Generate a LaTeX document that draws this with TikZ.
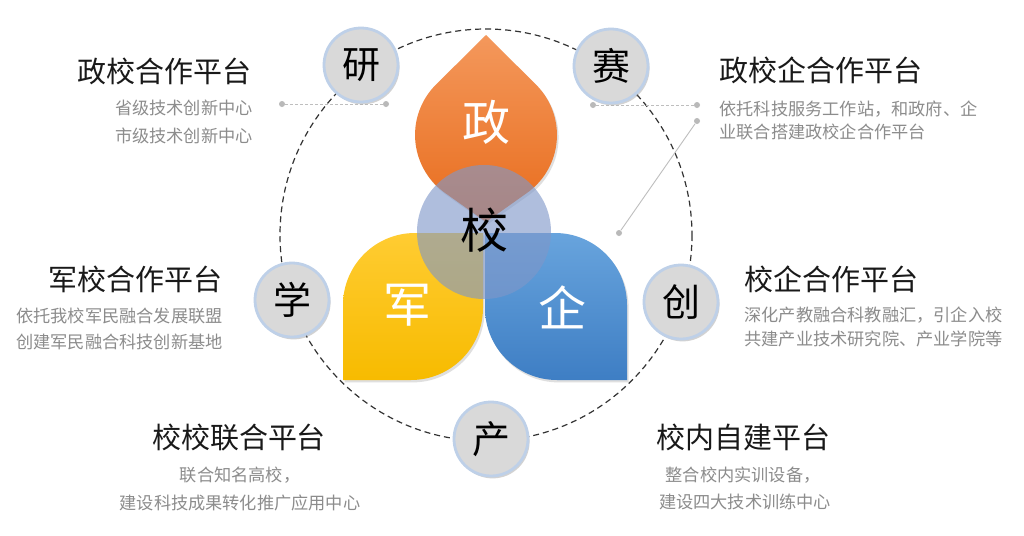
\documentclass[tikz,border=0pt]{standalone}
\usepackage{fontspec}
\setmainfont{Noto Sans CJK SC}
\usetikzlibrary{shadows}
\definecolor{titlec}{RGB}{25,25,25}
\definecolor{subc}{RGB}{140,140,140}
\definecolor{ringc}{RGB}{51,51,51}
\definecolor{linec}{RGB}{190,190,190}
\definecolor{dotc}{RGB}{185,185,185}
\definecolor{smfill}{RGB}{217,217,217}
\definecolor{smring}{RGB}{190,208,232}
\definecolor{orL}{RGB}{244,152,92}
\definecolor{orD}{RGB}{232,108,28}
\definecolor{yeL}{RGB}{255,204,50}
\definecolor{yeD}{RGB}{247,187,0}
\definecolor{blL}{RGB}{104,164,221}
\definecolor{blD}{RGB}{62,126,196}
\definecolor{cbl}{RGB}{127,151,201}
\begin{document}
\begin{tikzpicture}[x=0.5pt,y=-0.5pt,
  bigring/.style={draw=ringc,line width=0.6pt,dash pattern=on 3pt off 2pt},
  hline/.style={draw=linec,line width=0.5pt,dash pattern=on 1.5pt off 1pt},
  dline/.style={draw=linec,line width=0.45pt},
  dotn/.style={circle,fill=dotc,inner sep=0pt,minimum size=3pt},
  smallc/.style={circle,fill=smfill,draw=smring,line width=1.4pt,minimum size=37pt,inner sep=0pt,
    font=\fontsize{19}{22}\selectfont,text=black,
    drop shadow={opacity=0.35,shadow xshift=0.8pt,shadow yshift=-1.2pt}},
  petal/.style={drop shadow={opacity=0.25,shadow xshift=0.8pt,shadow yshift=-1.2pt}},
  bigch/.style={font=\fontsize{24}{28}\selectfont,text=white,inner sep=0pt},
  title/.style={font=\fontsize{14.5}{17}\selectfont,text=titlec,inner sep=0pt},
  sub/.style={font=\fontsize{8.6}{10}\selectfont,text=subc,inner sep=0pt}]
\useasboundingbox (0,0) rectangle (1024,536);
\fill[white] (0,0) rectangle (1024,536);

% big dashed ring
\draw[bigring] (486,235) circle[radius=206];

% dotted pointer lines
\node[dotn] (d1) at (282,104) {};
\node[dotn] (d2) at (386,104) {};
\node[dotn] (d3) at (593,105) {};
\node[dotn] (d4) at (697,105) {};
\node[dotn] (d5) at (697,121) {};
\node[dotn] (d6) at (619,233) {};
\draw[hline] (d1) -- (d2);
\draw[hline] (d3) -- (d4);
\draw[dline] (d5) -- (d6);

% petals
\path[petal,top color=orL,bottom color=orD]
  (486,35) -- (536.0,84.6) arc[start angle=-45.2,end angle=54.7,radius=71]
  -- (486,222) -- (445.0,192.9) arc[start angle=125.3,end angle=224.8,radius=71] -- cycle;
\path[petal,top color=yeL,bottom color=yeD]
  (343,305) arc[start angle=180,end angle=270,radius=72] -- (483,233) -- (483,308)
  arc[start angle=0,end angle=90,radius=72] -- (343,380) -- cycle;
\path[petal,top color=blL,bottom color=blD]
  (485,233) -- (555,233) arc[start angle=-90,end angle=0,radius=72] -- (627,380) -- (557,380)
  arc[start angle=90,end angle=180,radius=72] -- cycle;

% centre circle
\fill[cbl,fill opacity=0.62] (484,232) circle[radius=67];

\node[bigch] (zheng) at (486,122) {政};
\node[bigch] (jun) at (407,305) {军};
\node[bigch] (qi) at (562,307) {企};
\node[bigch,text=black] (xiao) at (484,230) {校};

% small circles
\node[smallc] (yan) at (361,65) {研};
\node[smallc] (sai) at (611,66) {赛};
\node[smallc] (xue) at (292,300) {学};
\node[smallc] (chuang) at (681,302) {创};
\node[smallc] (chan) at (491,439) {产};

% texts top-left
\node[title,anchor=east] (t1) at (252,71) {政校合作平台};
\node[sub,anchor=east] (s1a) at (253,108) {省级技术创新中心};
\node[sub,anchor=east] (s1b) at (253,136) {市级技术创新中心};
% top-right
\node[title,anchor=west] (t2) at (719,70) {政校企合作平台};
\node[sub,anchor=west] (s2a) at (719,109) {依托科技服务工作站，和政府、企};
\node[sub,anchor=west] (s2b) at (719,132) {业联合搭建政校企合作平台};
% middle-left
\node[title,anchor=east] (t3) at (223,279) {军校合作平台};
\node[sub,anchor=east] (s3a) at (223,316) {依托我校军民融合发展联盟};
\node[sub,anchor=east] (s3b) at (223,342) {创建军民融合科技创新基地};
% middle-right
\node[title,anchor=west] (t4) at (744,279) {校企合作平台};
\node[sub,anchor=west] (s4a) at (744,315) {深化产教融合科教融汇，引企入校};
\node[sub,anchor=west] (s4b) at (744,339) {共建产业技术研究院、产业学院等};
% bottom-left
\node[title] (t5) at (239,438) {校校联合平台};
\node[sub] (s5a) at (240,475) {联合知名高校，};
\node[sub] (s5b) at (240,503) {建设科技成果转化推广应用中心};
% bottom-right
\node[title] (t6) at (743,437) {校内自建平台};
\node[sub] (s6a) at (743,475) {整合校内实训设备，};
\node[sub] (s6b) at (745,502) {建设四大技术训练中心};
\end{tikzpicture}
\end{document}
